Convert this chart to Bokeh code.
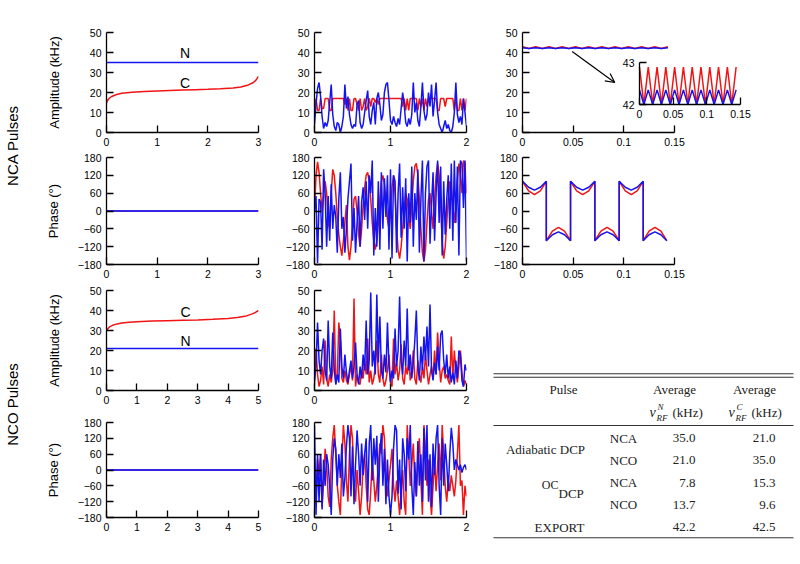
import numpy as np
from bokeh.plotting import figure
from bokeh.layouts import row, column
from bokeh.models import (Range1d, LinearAxis, FixedTicker, NumeralTickFormatter,
                          Label, Arrow, OpenHead)
from bokeh.core.properties import value
from bokeh.embed import file_html
from bokeh.resources import INLINE

# ---------------------------------------------------------------- data
amp_ticks = [0, 10, 20, 30, 40, 50]
phase_ticks = [-180, -120, -60, 0, 60, 120, 180]
nca_adiab_ticks = [0, 1, 2, 3]
nco_adiab_ticks = [0, 1, 2, 3, 4, 5]
oc_ticks = [0, 1, 2]
export_ticks = [0, 0.05, 0.1, 0.15]
inset_yticks = [42, 43]

# adiabatic DCP, NCA
nca_adiab_N_t = [0, 3]
nca_adiab_N = [35, 35]
nca_adiab_C_t = [0, 0.02, 0.05, 0.1, 0.2, 0.3, 0.5, 0.75, 1.0, 1.25, 1.5, 1.75,
                 2.0, 2.25, 2.5, 2.65, 2.8, 2.9, 2.95, 3.0]
nca_adiab_C = [14.8, 16.0, 17.0, 18.0, 19.0, 19.6, 20.1, 20.5, 20.8, 21.0, 21.2, 21.4,
               21.6, 21.9, 22.3, 22.8, 23.8, 25.0, 26.2, 28.0]
nca_adiab_phase_t = [0, 3]
nca_adiab_phase = [0, 0]

# adiabatic DCP, NCO
nco_adiab_N_t = [0, 5]
nco_adiab_N = [21, 21]
nco_adiab_C_t = [0, 0.05, 0.1, 0.2, 0.35, 0.5, 0.75, 1.0, 1.5, 2.0, 2.5, 3.0, 3.5,
                 4.0, 4.3, 4.6, 4.8, 4.9, 5.0]
nco_adiab_C = [30.0, 31.0, 31.8, 32.6, 33.3, 33.7, 34.1, 34.4, 34.7, 34.9, 35.1, 35.3, 35.6,
               36.0, 36.5, 37.3, 38.3, 39.1, 40.0]
nco_adiab_phase_t = [0, 5]
nco_adiab_phase = [0, 0]

# optimal-control DCP, sampled every 0.02 ms
oc_dt = 0.02
oc_nca_amp_N = [4, 14, 22, 25, 18, 8, 2, 5, 3, 6,
                15, 24, 9, 3, 1, 5, 4, 0, 3, 8,
                24, 12, 18, 9, 4, 2, 4, 3, 14, 16,
                5, 2, 4, 10, 16, 21, 8, 4, 11, 15,
                4, 17, 20, 14, 6, 9, 20, 24, 25, 16,
                6, 4, 8, 5, 3, 7, 4, 12, 20, 14,
                5, 3, 7, 4, 9, 25, 10, 15, 6, 3,
                13, 25, 11, 6, 9, 20, 13, 24, 8, 16,
                25, 10, 4, 2, 0, 3, 6, 2, 4, 1,
                0, 3, 10, 25, 9, 5, 8, 4, 17, 10, 3]
oc_nca_amp_C = [11, 17, 11, 11, 17, 12, 12, 17, 17, 17,
                11, 11, 17, 17, 17, 17, 17, 17, 17, 17,
                14, 17, 11, 17, 11, 11, 17, 17, 14, 11,
                17, 11, 13, 17, 11, 13, 17, 13, 17, 17,
                15, 17, 14, 17, 17, 17, 17, 17, 17, 17,
                17, 17, 17, 17, 17, 17, 17, 17, 13, 17,
                11, 17, 11, 17, 17, 17, 17, 17, 11, 17,
                13, 17, 11, 17, 13, 17, 17, 17, 17, 17,
                17, 11, 11, 17, 17, 17, 13, 17, 17, 17,
                17, 17, 11, 17, 11, 11, 17, 11, 17, 11, 17]
oc_nca_phase_N = [0, 50, -175, 40, 30, -130, 140, 60, -120, 50,
                  -100, 90, -60, 20, -20, -140, 40, 130, -60, -20,
                  -140, -60, 40, 100, 160, -100, 10, -140, -40, 50,
                  -120, 30, 80, -30, 100, -60, 120, 60, 170, -150,
                  10, -120, 100, -130, 130, -60, 110, -20, 120, -130,
                  140, -160, 120, 100, -140, 60, 160, -90, 80, -60,
                  110, -170, 60, -40, 150, -120, 60, -30, 140, -140,
                  40, 170, -170, 60, 150, 170, -110, 20, 130, -100,
                  60, 170, -40, 150, -150, 100, -80, 40, 120, -60,
                  160, -100, 170, -40, 150, -150, 170, 160, 10, 170, -170]
oc_nca_phase_C = [0, 120, 165, 130, 60, 0, 50, 100, 60, -40,
                  -60, 60, 140, 120, 60, -20, -80, -120, -150, -100,
                  -40, 20, -120, -165, -120, -40, 40, 50, 0, -80,
                  -120, -60, 20, 80, 120, 130, 100, 40, -40, -100,
                  -130, -100, -40, 40, 100, 120, 90, 30, -30, -60,
                  0, 80, 120, 60, -60, -130, -160, -120, -60, 0,
                  60, 40, -20, -60, 20, 100, 150, 160, 120, 40,
                  -60, -140, -170, -130, -40, 40, 60, 0, -60, 40,
                  120, 160, 120, 20, -100, -160, -120, -40, 40, 100,
                  80, 20, -40, 20, 100, 160, 120, 60, 170, 160, 60]
oc_nco_amp_N = [5, 12, 34, 15, 8, 20, 26, 10, 5, 35,
                12, 6, 29, 10, 3, 8, 4, 31, 12, 6,
                18, 9, 4, 10, 15, 6, 12, 24, 8, 3,
                12, 6, 18, 10, 35, 8, 15, 49, 12, 20,
                8, 48, 14, 37, 10, 6, 18, 9, 34, 12,
                4, 10, 6, 31, 12, 20, 47, 15, 8, 25,
                12, 41, 10, 18, 6, 14, 25, 40, 12, 5,
                22, 10, 27, 15, 32, 12, 43, 10, 5, 14,
                8, 22, 10, 28, 30, 15, 8, 18, 6, 12,
                4, 9, 3, 15, 6, 20, 18, 5, 2, 13, 10]
oc_nco_amp_C = [3, 21, 8, 2, 5, 12, 3, 25, 6, 2,
                8, 4, 10, 40, 3, 8, 34, 25, 6, 4,
                10, 5, 3, 8, 12, 5, 46, 2, 8, 4,
                3, 10, 6, 15, 8, 26, 4, 10, 3, 6,
                12, 25, 8, 4, 18, 6, 2, 5, 10, 18,
                4, 2, 26, 8, 14, 5, 10, 23, 6, 3,
                12, 8, 16, 5, 10, 20, 6, 3, 15, 8,
                4, 12, 6, 18, 10, 3, 8, 12, 6, 20,
                8, 29, 15, 4, 10, 12, 6, 8, 5, 3,
                27, 6, 20, 10, 4, 12, 20, 9, 2, 5, 3]
oc_nco_phase_N = [170, -170, 60, -120, 60, -150, 40, -60, 60, 20,
                  -60, -170, 40, 120, 80, -60, 60, -30, 100, -100,
                  -30, 90, 170, 120, -100, 90, -130, 20, 150, 60,
                  -60, 100, -20, 60, 120, -120, 100, 170, -40, 120,
                  20, 130, -120, 60, 140, -60, 80, -130, 40, -100,
                  -170, -100, 80, 170, 150, -90, 40, -150, 120, 60,
                  -80, 120, 40, 170, -60, -170, 30, -100, 110, -60,
                  60, -120, 160, -40, 170, -120, 60, -140, 100, -20,
                  120, 170, -60, -170, 120, -60, 100, 20, -80, 60,
                  160, 100, 0, 40, 20, 0, 20, -10, 10, 20, 0]
oc_nco_phase_C = [-60, -120, 40, -20, 60, -140, -40, 80, 20, -100,
                  -140, 40, 120, 170, 60, -60, -120, -170, 20, 170,
                  100, -40, -120, 60, 170, 120, -60, -120, 0, -80,
                  -170, -100, 20, 60, -60, -150, -170, -80, 40, -40,
                  -120, -60, 20, 100, 60, 170, 120, -20, -100, -40,
                  20, 80, -60, -120, -40, -100, -170, -80, 0, -120,
                  -170, 170, 60, -60, 20, 100, -40, -100, 40, 120,
                  -40, -170, 170, 80, -60, 40, -100, -170, -60, 40,
                  -80, 20, 100, -40, 170, 60, -60, -120, -40, -80,
                  -20, -60, -100, -40, 60, 170, -60, -40, -170, -60, -100]

# EXPORT amplitude (peaks / troughs)
export_amp_t = [0, 0.0065, 0.013, 0.0196, 0.0261, 0.0326, 0.0391, 0.0457, 0.0522,
                0.0587, 0.0652, 0.0718, 0.0783, 0.0848, 0.0913, 0.0979, 0.1044,
                0.1109, 0.1174, 0.1240, 0.1305, 0.1370, 0.1435]
export_amp_C = [42.9, 42.0, 42.9, 42.0, 42.9, 42.0, 42.9, 42.0, 42.9, 42.0, 42.9, 42.0,
                42.9, 42.0, 42.9, 42.0, 42.9, 42.0, 42.9, 42.0, 42.9, 42.0, 42.9]
export_amp_N = [42.35, 42.0, 42.35, 42.0, 42.35, 42.0, 42.35, 42.0, 42.35, 42.0, 42.35, 42.0,
                42.35, 42.0, 42.35, 42.0, 42.35, 42.0, 42.35, 42.0, 42.35, 42.0, 42.35]

# EXPORT phase
export_ph_t = [0, 0.006, 0.0118, 0.0176, 0.0235,
               0.0235, 0.0295, 0.0355, 0.0415, 0.0474,
               0.0474, 0.0534, 0.0594, 0.0654, 0.0714,
               0.0714, 0.0774, 0.0834, 0.0894, 0.0954,
               0.0954, 0.1014, 0.1073, 0.1132, 0.1191,
               0.1191, 0.1249, 0.1307, 0.1366, 0.1424]
export_ph_N = [100, 80, 70, 80, 100, -100, -80, -70, -80, -100,
               100, 80, 70, 80, 100, -100, -80, -70, -80, -100,
               100, 80, 70, 80, 100, -100, -80, -70, -80, -100]
export_ph_C = [100, 68, 55, 68, 100, -100, -68, -55, -68, -100,
               100, 68, 55, 68, 100, -100, -68, -55, -68, -100,
               100, 68, 55, 68, 100, -100, -68, -55, -68, -100]

# table
table_sub = ["NCA", "NCO", "NCA", "NCO", ""]
table_vN = [35.0, 21.0, 7.8, 13.7, 42.2]
table_vC = [21.0, 35.0, 15.3, 9.6, 42.5]

# ---------------------------------------------------------------- style
SANS = "Liberation Sans"
SERIF = "Liberation Serif"
RED = "#f01414"
BLUE = "#1414f0"
LW = 1.5


def oc_time(vals):
    return [round(i * oc_dt, 2) for i in range(len(vals))]


def style_axis(ax):
    ax.axis_line_color = "black"
    ax.axis_line_width = 1.3
    ax.major_tick_line_color = "black"
    ax.major_tick_line_width = 1.3
    ax.major_tick_in = 7
    ax.major_tick_out = 0
    ax.minor_tick_line_color = None
    ax.major_label_text_font = SANS
    ax.major_label_text_font_size = "10.5px"
    ax.major_label_text_color = "black"
    ax.major_label_standoff = 5


def panel(w, h, borders, xr, yr, xticks, yticks, ylabel=None, ylab_standoff=0,
          xbounds="auto", xfmt=None):
    bl, br, bt, bb = borders
    p = figure(width=w, height=h, x_range=Range1d(*xr), y_range=Range1d(*yr),
               x_axis_type=None, y_axis_type=None, output_backend="svg",
               toolbar_location=None, min_border_left=bl, min_border_right=br,
               min_border_top=bt, min_border_bottom=bb)
    p.outline_line_color = None
    p.background_fill_color = "white"
    p.border_fill_color = "white"
    xa = LinearAxis(ticker=FixedTicker(ticks=xticks), bounds=xbounds)
    if xfmt is not None:
        xa.formatter = xfmt
    style_axis(xa)
    p.add_layout(xa, "below")
    ya = LinearAxis(ticker=FixedTicker(ticks=yticks))
    style_axis(ya)
    if ylabel:
        ya.axis_label = ylabel
        ya.axis_label_text_font = SANS
        ya.axis_label_text_font_size = "13px"
        ya.axis_label_text_font_style = "normal"
        ya.axis_label_text_color = "black"
        ya.axis_label_standoff = ylab_standoff
    p.add_layout(ya, "left")
    return p


def text_fig(w, h, xr, yr):
    p = figure(width=w, height=h, x_range=Range1d(*xr), y_range=Range1d(*yr),
               x_axis_type=None, y_axis_type=None, output_backend="svg",
               toolbar_location=None, min_border=0)
    p.outline_line_color = None
    return p


def y_at(yr, frame_top, frame_bottom, page_y):
    return yr[0] + (frame_bottom - page_y) * (yr[1] - yr[0]) / (frame_bottom - frame_top)


def lbl(p, x, y, text, size="14px", align="center", baseline="middle"):
    p.add_layout(Label(x=x, y=y, text=text, text_font=SANS, text_font_size=size,
                       text_align=align, text_baseline=baseline, text_color="black"))


# layout geometry in page pixels (borders: left, right, top, bottom)
W0, W1, W2, W3 = 28, 252, 210, 310
HA, HB, HC, HD = 150, 133, 129, 150
BA, BB, BC, BD = (32, 18), (7, 19), (7, 22), (10, 45)
L1, R1 = 78, 22
L2, R2 = 34, 24
FR3 = (522, 762)                  # shared frame of EXPORT panels (page px)
L3 = FR3[0] - (W0 + W1 + W2)
R3 = W3 - L3 - (FR3[1] - FR3[0])
AMP = (0, 50)
PH = (-180, 180)
FR_A = (32, 132)
FR_D = (422, 517)
x_end3 = 0.15 * (FR3[1] - FR3[0]) / 152.0

# ---------------------------------------------------------------- column 1
a1 = panel(W1, HA, (L1, R1) + BA, (0, 3), AMP, nca_adiab_ticks, amp_ticks,
           "Amplitude (kHz)", 25)
a1.line(nca_adiab_C_t, nca_adiab_C, line_color=RED, line_width=LW)
a1.line(nca_adiab_N_t, nca_adiab_N, line_color=BLUE, line_width=LW)
lbl(a1, 1.55, 40, "N")
lbl(a1, 1.55, 25, "C")
lbl(a1, 1.65, y_at(AMP, *FR_A, 26), "adiabatic DCP", "16px", "center", "alphabetic")

b1 = panel(W1, HB, (L1, R1) + BB, (0, 3), PH, nca_adiab_ticks, phase_ticks,
           "Phase (°)", 14)
b1.line(nca_adiab_phase_t, nca_adiab_phase, line_color=RED, line_width=1.0)
b1.line(nca_adiab_phase_t, nca_adiab_phase, line_color=BLUE, line_width=2.2, line_alpha=0.85)

c1 = panel(W1, HC, (L1, R1) + BC, (0, 5), AMP, nco_adiab_ticks, amp_ticks,
           "Amplitude (kHz)", 25)
c1.line(nco_adiab_C_t, nco_adiab_C, line_color=RED, line_width=LW)
c1.line(nco_adiab_N_t, nco_adiab_N, line_color=BLUE, line_width=LW)
lbl(c1, 2.6, 39.2, "C")
lbl(c1, 2.6, 24.7, "N")

d1 = panel(W1, HD, (L1, R1) + BD, (0, 5), PH, nco_adiab_ticks, phase_ticks,
           "Phase (°)", 14)
d1.line(nco_adiab_phase_t, nco_adiab_phase, line_color=RED, line_width=1.0)
d1.line(nco_adiab_phase_t, nco_adiab_phase, line_color=BLUE, line_width=2.2, line_alpha=0.85)

# ---------------------------------------------------------------- column 2
a2 = panel(W2, HA, (L2, R2) + BA, (0, 2), AMP, oc_ticks, amp_ticks)
a2.line(oc_time(oc_nca_amp_C), oc_nca_amp_C, line_color=RED, line_width=LW)
a2.line(oc_time(oc_nca_amp_N), oc_nca_amp_N, line_color=BLUE, line_width=LW)
lbl(a2, 0.84, y_at(AMP, *FR_A, 13.5), "OC", "10.5px", "right", "alphabetic")
lbl(a2, 0.84, y_at(AMP, *FR_A, 25.5), "DCP", "16px", "left", "alphabetic")

b2 = panel(W2, HB, (L2, R2) + BB, (0, 2), PH, oc_ticks, phase_ticks)
b2.line(oc_time(oc_nca_phase_C), oc_nca_phase_C, line_color=RED, line_width=LW)
b2.line(oc_time(oc_nca_phase_N), oc_nca_phase_N, line_color=BLUE, line_width=LW)

c2 = panel(W2, HC, (L2, R2) + BC, (0, 2), AMP, oc_ticks, amp_ticks)
c2.line(oc_time(oc_nco_amp_C), oc_nco_amp_C, line_color=RED, line_width=LW)
c2.line(oc_time(oc_nco_amp_N), oc_nco_amp_N, line_color=BLUE, line_width=LW)

d2 = panel(W2, HD, (L2, R2) + BD, (0, 2), PH, oc_ticks, phase_ticks)
d2.line(oc_time(oc_nco_phase_C), oc_nco_phase_C, line_color=RED, line_width=LW)
d2.line(oc_time(oc_nco_phase_N), oc_nco_phase_N, line_color=BLUE, line_width=LW)
lbl(d2, 1.0, y_at(PH, *FR_D, 548.5), "Time (ms)", "16px")

# ---------------------------------------------------------------- column 3
exp_fmt = NumeralTickFormatter(format="0.[00]")
a3 = panel(W3, HA, (L3, R3) + BA, (0, x_end3), AMP,
           export_ticks, amp_ticks, xbounds=(0, 0.15), xfmt=exp_fmt)
a3.line(export_amp_t, export_amp_C, line_color=RED, line_width=LW)
a3.line(export_amp_t, export_amp_N, line_color=BLUE, line_width=LW)
lbl(a3, 0.079, y_at(AMP, *FR_A, 26), "EXPORT", "16px", "center", "alphabetic")

# inset (zoom of 42-43 kHz)
IN_L, IN_R, IN_T, IN_B = 639, 740, 62.3, 104
sx = 0.15 / (IN_R - IN_L)
sy = 1.0 / (IN_B - IN_T)
a3.extra_x_ranges = {"ix": Range1d(0 - (IN_L - FR3[0]) * sx, 0.15 + (FR3[1] - IN_R) * sx)}
a3.extra_y_ranges = {"iy": Range1d(42 - (FR_A[1] - IN_B) * sy, 43 + (IN_T - FR_A[0]) * sy)}
ixa = LinearAxis(x_range_name="ix", y_range_name="iy", fixed_location=42,
                 bounds=(0, 0.15), ticker=FixedTicker(ticks=export_ticks), formatter=exp_fmt)
style_axis(ixa)
a3.add_layout(ixa, "below")
iya = LinearAxis(x_range_name="ix", y_range_name="iy", fixed_location=0,
                 bounds=(42, 43), ticker=FixedTicker(ticks=inset_yticks))
style_axis(iya)
a3.add_layout(iya, "left")
a3.line(export_amp_t, export_amp_C, line_color=RED, line_width=LW,
        x_range_name="ix", y_range_name="iy")
a3.line(export_amp_t, export_amp_N, line_color=BLUE, line_width=LW,
        x_range_name="ix", y_range_name="iy")
arrow_start = (0.049, 40.5)
arrow_end = (0.091, 25.0)
a3.add_layout(Arrow(end=OpenHead(size=9, line_width=1.2, line_color="black"),
                    x_start=arrow_start[0], y_start=arrow_start[1],
                    x_end=arrow_end[0], y_end=arrow_end[1],
                    line_width=1.2, line_color="black"))

b3 = panel(W3, HB, (L3, R3) + BB, (0, x_end3), PH, export_ticks, phase_ticks,
           xbounds=(0, 0.15), xfmt=exp_fmt)
b3.line(export_ph_t, export_ph_C, line_color=RED, line_width=LW)
b3.line(export_ph_t, export_ph_N, line_color=BLUE, line_width=LW)

# ---------------------------------------------------------------- table
X3 = W0 + W1 + W2
TOP = HA + HB
BOTTOM = HA + HB + HC + HD
tab = text_fig(W3, HC + HD, (X3, X3 + W3), (BOTTOM, TOP))
x_l, x_r = 493, 793
rules_y = [373.3, 376.7, 425.0, 537.3]
tab.segment(x0=[x_l] * len(rules_y), y0=rules_y, x1=[x_r] * len(rules_y), y1=rules_y,
            line_color="#333333", line_width=1.1)

SER = dict(text_font=value(SERIF), text_color="#222222", text_baseline="middle")
col_pulse, col_sub, col_n, col_c = 563, 623, 695, 775
hdr_y, unit_y = 389, 412
nu_x = [652, 731]
tab.text(x=[col_pulse], y=[hdr_y], text=["Pulse"], text_align="center",
         text_font_size="13px", **SER)
tab.text(x=[674, 754], y=[hdr_y, hdr_y], text=["Average", "Average"],
         text_align="center", text_font_size="13px", **SER)
tab.text(x=nu_x, y=[unit_y] * 2, text=["ν", "ν"], text_align="center",
         text_font_size="14px", text_font_style="italic", **SER)
tab.text(x=[v + 5 for v in nu_x], y=[unit_y - 5.5] * 2, text=["N", "C"], text_align="left",
         text_font_size="9px", text_font_style="italic", **SER)
tab.text(x=[v + 4 for v in nu_x], y=[unit_y + 5.5] * 2, text=["RF", "RF"], text_align="left",
         text_font_size="9px", text_font_style="italic", **SER)
tab.text(x=[v + 20 for v in nu_x], y=[unit_y] * 2, text=["(kHz)", "(kHz)"], text_align="left",
         text_font_size="13px", **SER)

row_y0, row_dy = 437.5, 22.25
rows_y = [row_y0 + i * row_dy for i in range(len(table_vN))]
tab.text(x=[col_sub] * len(table_sub), y=rows_y, text=table_sub, text_align="center",
         text_font_size="13px", **SER)
tab.text(x=[col_n] * len(table_vN), y=rows_y, text=["%.1f" % v for v in table_vN],
         text_align="right", text_font_size="13px", **SER)
tab.text(x=[col_c] * len(table_vC), y=rows_y, text=["%.1f" % v for v in table_vC],
         text_align="right", text_font_size="13px", **SER)
tab.text(x=[545], y=[(rows_y[0] + rows_y[1]) / 2], text=["Adiabatic DCP"],
         text_align="center", text_font_size="13px", **SER)
oc_mid = (rows_y[2] + rows_y[3]) / 2
tab.text(x=[558], y=[oc_mid - 9], text=["OC"], text_align="right",
         text_font_size="12px", **SER)
tab.text(x=[558], y=[oc_mid], text=["DCP"], text_align="left",
         text_font_size="13px", **SER)
tab.text(x=[559], y=[rows_y[4]], text=["EXPORT"], text_align="center",
         text_font_size="13px", **SER)

# ---------------------------------------------------------------- row labels
lab_nca = text_fig(W0, HA + HB, (0, W0), (HA + HB, 0))
lab_nca.text(x=[12], y=[145], text=["NCA Pulses"], angle=np.pi / 2,
             text_font=value(SANS), text_font_size="15px", text_align="center",
             text_baseline="middle", text_color="black")
lab_nco = text_fig(W0, HC + HD, (0, W0), (BOTTOM, TOP))
lab_nco.text(x=[12], y=[404], text=["NCO Pulses"], angle=np.pi / 2,
             text_font=value(SANS), text_font_size="15px", text_align="center",
             text_baseline="middle", text_color="black")

layout = row(column(lab_nca, lab_nco),
             column(a1, b1, c1, d1),
             column(a2, b2, c2, d2),
             column(column(a3, b3), tab))

open("out.html", "w").write(file_html(layout, INLINE))
